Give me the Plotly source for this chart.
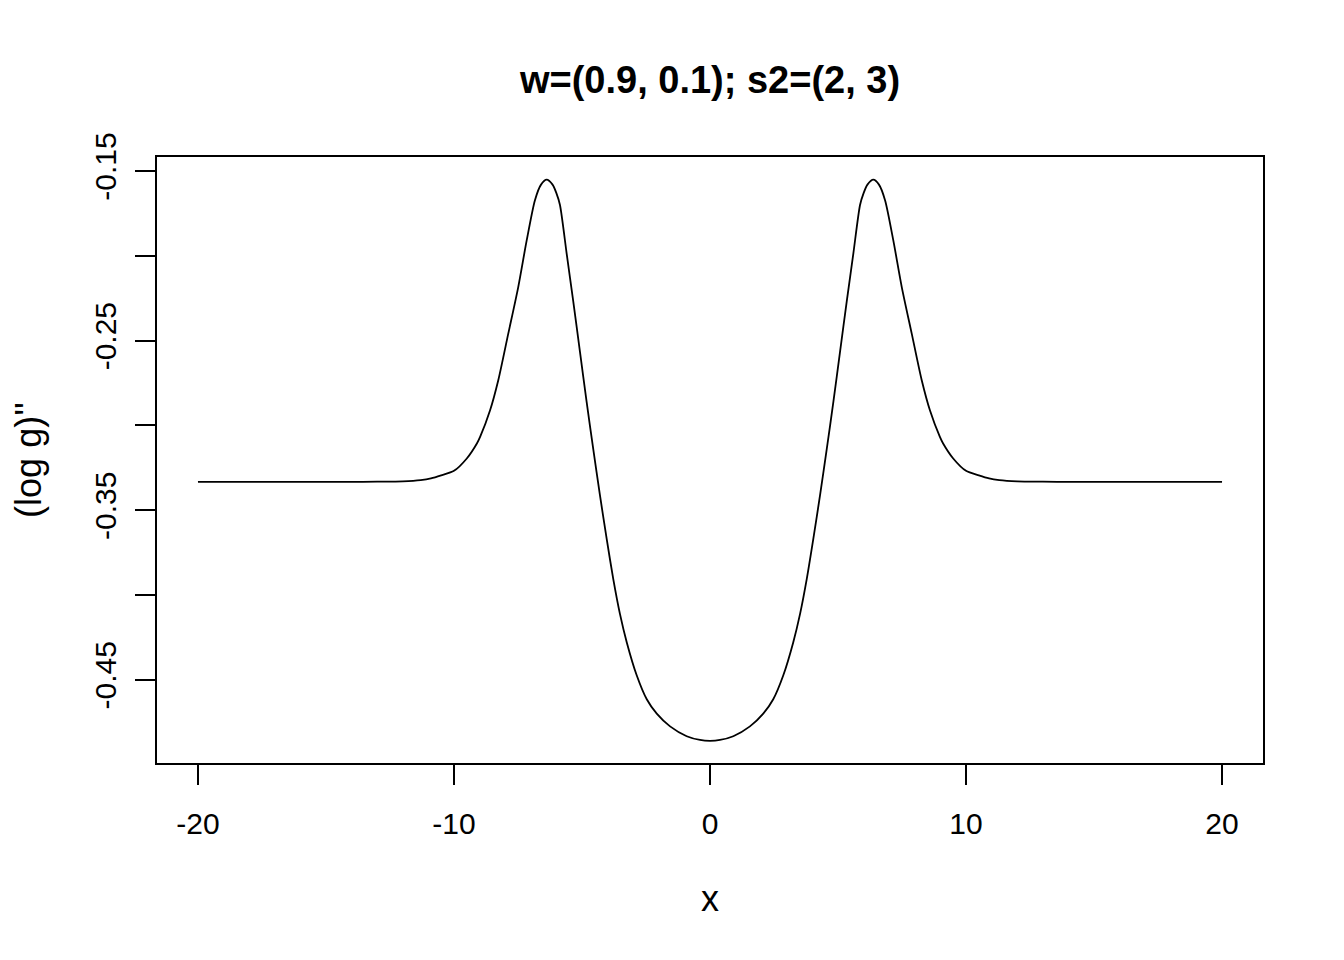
import plotly.graph_objects as go

# valores
x_vals = [-20, -17, -14, -13, -12, -11.3, -10.9, -10.5, -10.0, -9.5, -9.1, -8.98, -8.59, -8.27,
          -7.88, -7.49, -7.16, -6.84, -6.6, -6.38, -6.15, -6.0, -5.86, -5.6, -5.34, -5.08,
          -4.82, -4.56, -4.3, -4.04, -3.78, -3.52, -3.25, -2.86, -2.47, -2.08, -1.56, -0.91,
          -0.39, 0,
          0.39, 0.91, 1.56, 2.08, 2.47, 2.86, 3.25, 3.52, 3.78, 4.04, 4.3, 4.56, 4.82, 5.08,
          5.34, 5.6, 5.86, 6.0, 6.15, 6.38, 6.6, 6.84, 7.16, 7.49, 7.88, 8.27, 8.59, 8.98,
          9.1, 9.5, 10.0, 10.5, 10.9, 11.3, 12, 13, 14, 17, 20]
y_vals = [-0.3333, -0.3333, -0.3333, -0.3332, -0.3330, -0.3323, -0.3313, -0.3295, -0.3268,
          -0.3195, -0.3105, -0.3068, -0.2911, -0.2734, -0.2459, -0.2184, -0.1909, -0.1673,
          -0.1580, -0.1551, -0.1580, -0.1630, -0.1700, -0.1985, -0.2270, -0.2565, -0.2860,
          -0.3140, -0.3410, -0.3665, -0.3905, -0.4110, -0.4280, -0.4475, -0.4615, -0.4700,
          -0.4775, -0.4833, -0.4855, -0.4860,
          -0.4855, -0.4833, -0.4775, -0.4700, -0.4615, -0.4475, -0.4280, -0.4110, -0.3905,
          -0.3665, -0.3410, -0.3140, -0.2860, -0.2565, -0.2270, -0.1985, -0.1700, -0.1630,
          -0.1580, -0.1551, -0.1580, -0.1673, -0.1909, -0.2184, -0.2459, -0.2734, -0.2911,
          -0.3068, -0.3105, -0.3195, -0.3268, -0.3295, -0.3313, -0.3323, -0.3330, -0.3332,
          -0.3333, -0.3333, -0.3333]

x_ticks = [-20, -10, 0, 10, 20]
y_ticks = [-0.45, -0.40, -0.35, -0.30, -0.25, -0.20, -0.15]
y_tick_text = ['-0.45', '', '-0.35', '', '-0.25', '', '-0.15']

fonte = 'Liberation Sans, Arial, sans-serif'

fig = go.Figure()
fig.add_trace(go.Scatter(
    x=x_vals, y=y_vals, mode='lines',
    line=dict(color='black', width=1.8, shape='spline', smoothing=0.7),
    showlegend=False
))

# a pagina tem 8px de margem no body, por isso a figura fica 8px menor
fig.update_layout(
    width=1336, height=952,
    margin=dict(t=149, b=197, l=149, r=81),
    paper_bgcolor='white',
    plot_bgcolor='white',
    font=dict(family=fonte, size=30, color='black'),
    title=dict(text='<b>w=(0.9, 0.1); s2=(2, 3)</b>', x=(710 - 8) / 1336, xanchor='center',
               y=1 - 72 / 952, yanchor='middle', font=dict(size=38, family=fonte)),
    xaxis=dict(
        range=[-21.6, 21.6],
        tickmode='array', tickvals=x_ticks, ticktext=[str(v) for v in x_ticks],
        ticks='outside', ticklen=20, tickwidth=2, tickcolor='black',
        showline=True, linecolor='black', linewidth=2, mirror=True,
        showgrid=False, zeroline=False,
        title=dict(text='x', standoff=47),
        ticklabelstandoff=13
    ),
    yaxis=dict(
        range=[-0.4991, -0.1417],
        tickmode='array', tickvals=y_ticks, ticktext=y_tick_text,
        tickangle=-90,
        ticks='outside', ticklen=20, tickwidth=2, tickcolor='black',
        showline=True, linecolor='black', linewidth=2, mirror=True,
        showgrid=False, zeroline=False,
        title=dict(text="(log g)''", standoff=38),
        ticklabelstandoff=7
    )
)

fig.write_html("out.html")
